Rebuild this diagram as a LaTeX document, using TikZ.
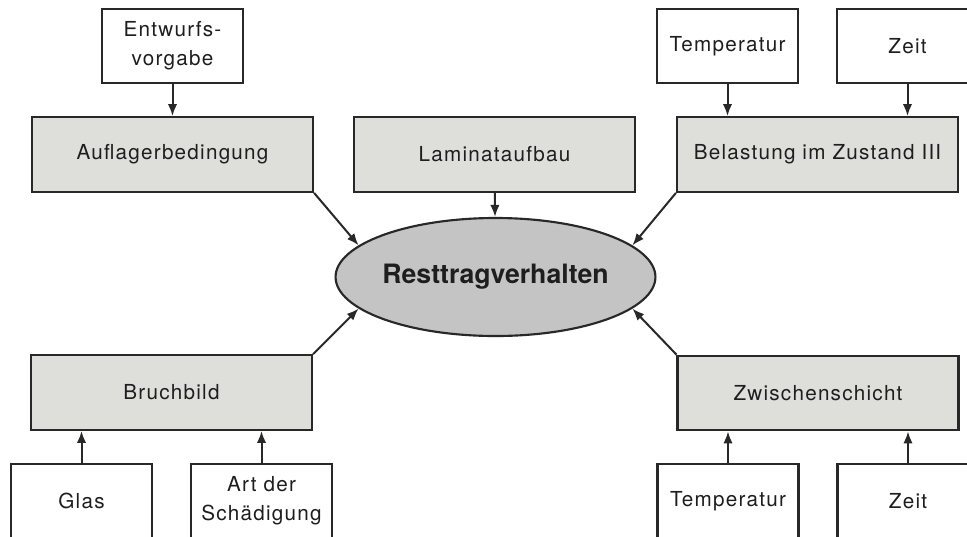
\documentclass[tikz,border=0pt]{standalone}
\usepackage{fontspec}
\setmainfont{TeX Gyre Heros}
\newfontfamily\boxfont[LetterSpace=6]{TeX Gyre Heros}
\usetikzlibrary{shapes.geometric,arrows.meta}
\definecolor{boxgray}{RGB}{222,222,218}
\definecolor{ellgray}{RGB}{196,196,196}
\definecolor{linegray}{RGB}{40,40,40}
\definecolor{textgray}{RGB}{30,30,30}
\begin{document}
\begin{tikzpicture}[x=0.75pt, y=-0.75pt,
                    every node/.style={draw=linegray, line width=1.6pt, text=textgray,
                        font=\boxfont\fontsize{15.5pt}{21.5pt}\selectfont, align=center, inner sep=0pt},
                    smallbox/.style={rectangle, fill=white, minimum width=105.75pt, minimum height=55.5pt},
                    graybox/.style={rectangle, fill=boxgray, minimum width=210.75pt, minimum height=56pt},
                    centre/.style={ellipse, fill=ellgray, minimum width=237.75pt, minimum height=88.5pt,
                        font=\bfseries\fontsize{20pt}{24pt}\selectfont},
                    arr/.style={draw=linegray, line width=1.5pt, -{Latex[length=9pt,width=7pt]}}
                    ]

                    \useasboundingbox (0,0) rectangle (967,536);
                    \clip (0,0) rectangle (967,536);

                    \node[smallbox] (entw) at (172.5,46) {Entwurfs-\\vorgabe};
                    \node[smallbox] (tempo) at (727.5,46) {Temperatur};
                    \node[smallbox] (zeito) at (907.5,46) {Zeit};
                    \node[graybox] (aufl) at (172.5,154.5) {Auflagerbedingung};
                    \node[graybox] (lam) at (494.5,154.5) {Laminataufbau};
                    \node[graybox] (bel) at (817.5,154.5) {Belastung im Zustand III};
                    \node[centre] (rest) at (495.5,277) {Resttragverhalten};
                    \node[graybox] (bruch) at (171.5,392.5) {Bruchbild};
                    \node[graybox] (zwi) at (818,393) {Zwischenschicht};
                    \node[smallbox] (glas) at (81.5,501) {Glas};
                    \node[smallbox] (art) at (261.5,501) {Art der\\Sch\"adigung};
                    \node[smallbox] (tempu) at (728,501) {Temperatur};
                    \node[smallbox] (zeitu) at (908,501) {Zeit};

                    \foreach \i/\j in {entw/aufl,tempo/bel.north-|tempo,zeito/bel.north-|zeito,lam/rest}{
                        \draw (\i) edge[arr] (\j);
                    }
                    \foreach \i/\j in {glas/bruch.south-|glas,art/bruch.south-|art,tempu/zwi.south-|tempu,zeitu/zwi.south-|zeitu}{
                        \draw (\i) edge[arr] (\j);
                    }
                    \foreach \i/\j in {aufl.south east/rest.167,bel.south west/rest.13,bruch.north east/rest.193,zwi.north west/rest.-13}{
                        \draw (\i) edge[arr] (\j);
                    }

                \end{tikzpicture}
\end{document}
